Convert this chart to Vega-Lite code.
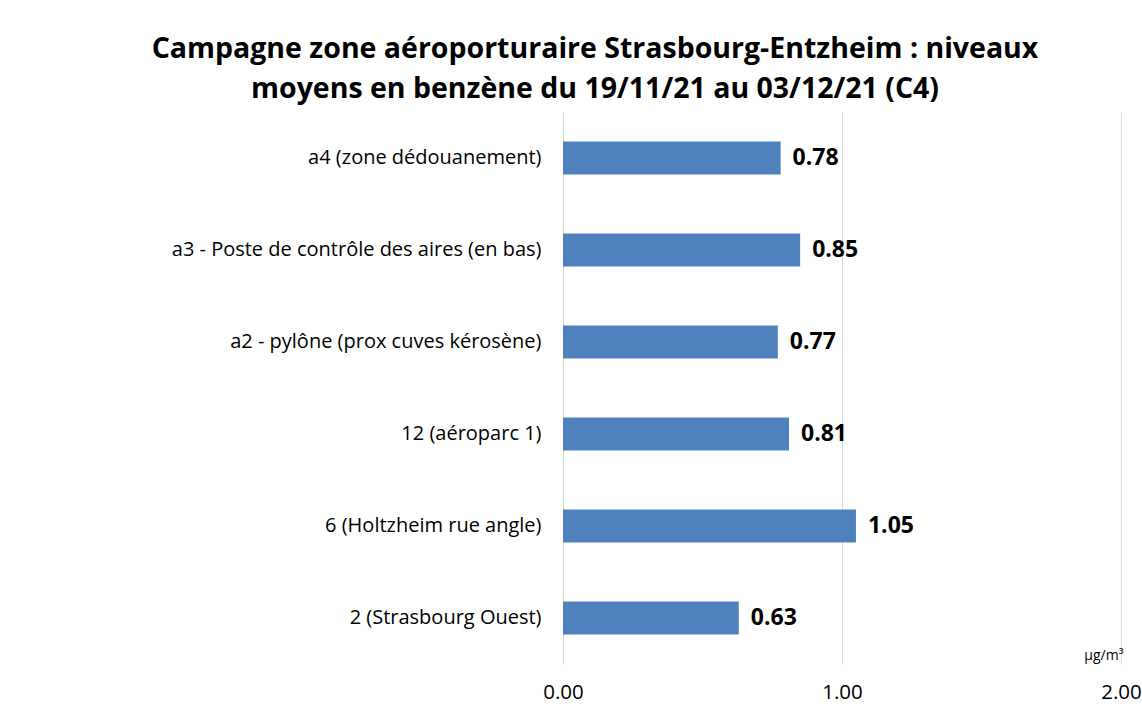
{
  "$schema": "https://vega.github.io/schema/vega-lite/v6.json",
  "width": 558,
  "height": 552,
  "autosize": {"type": "none"},
  "padding": {"left": 563, "top": 112, "right": 21, "bottom": 43},
  "background": "white",
  "title": {
    "text": ["Campagne zone aéroporturaire Strasbourg-Entzheim : niveaux", "moyens en benzène du 19/11/21 au 03/12/21 (C4)"],
    "anchor": "middle",
    "frame": "group",
    "dx": -247,
    "offset": 9,
    "font": "Open Sans",
    "fontSize": 28.5,
    "fontWeight": "bold",
    "color": "#000000",
    "lineHeight": 40
  },
  "data": {
    "values": [
      {"site": "a4 (zone dédouanement)", "valeur": 0.78},
      {"site": "a3 - Poste de contrôle des aires (en bas)", "valeur": 0.85},
      {"site": "a2 - pylône (prox cuves kérosène)", "valeur": 0.77},
      {"site": "12 (aéroparc 1)", "valeur": 0.81},
      {"site": "6 (Holtzheim rue angle)", "valeur": 1.05},
      {"site": "2 (Strasbourg Ouest)", "valeur": 0.63}
    ]
  },
  "encoding": {
    "y": {
      "field": "site",
      "type": "nominal",
      "sort": null,
      "scale": {"paddingInner": 0.64, "paddingOuter": 0.32},
      "axis": {
        "title": null,
        "domain": false,
        "ticks": false,
        "labelPadding": 22,
        "labelFont": "Open Sans",
        "labelFontSize": 20,
        "labelColor": "#000000",
        "labelLimit": 500
      }
    },
    "x": {
      "field": "valeur",
      "type": "quantitative",
      "scale": {"domain": [0, 2], "nice": false},
      "axis": {
        "values": [0, 1, 2],
        "format": ".2f",
        "domain": false,
        "ticks": false,
        "grid": true,
        "gridColor": "#d9d9d9",
        "gridWidth": 1,
        "labelPadding": 18,
        "labelFont": "Open Sans",
        "labelFontSize": 20.5,
        "labelColor": "#000000",
        "labelFlush": false,
        "title": "µg/m³",
        "titleFont": "Open Sans",
        "titleFontSize": 14,
        "titleFontWeight": "normal",
        "titleColor": "#000000",
        "titleAnchor": "end",
        "titleAlign": "right",
        "titleBaseline": "alphabetic",
        "titleX": 560,
        "titleY": -5
      }
    }
  },
  "layer": [
    {
      "mark": {"type": "bar", "color": "#4f81bd"}
    },
    {
      "mark": {
        "type": "text",
        "align": "left",
        "baseline": "middle",
        "dx": 12,
        "font": "Open Sans",
        "fontSize": 23,
        "fontWeight": "bold",
        "color": "#000000"
      },
      "encoding": {
        "text": {"field": "valeur", "type": "quantitative", "format": ".2f"}
      }
    }
  ],
  "config": {
    "view": {"stroke": null}
  }
}
